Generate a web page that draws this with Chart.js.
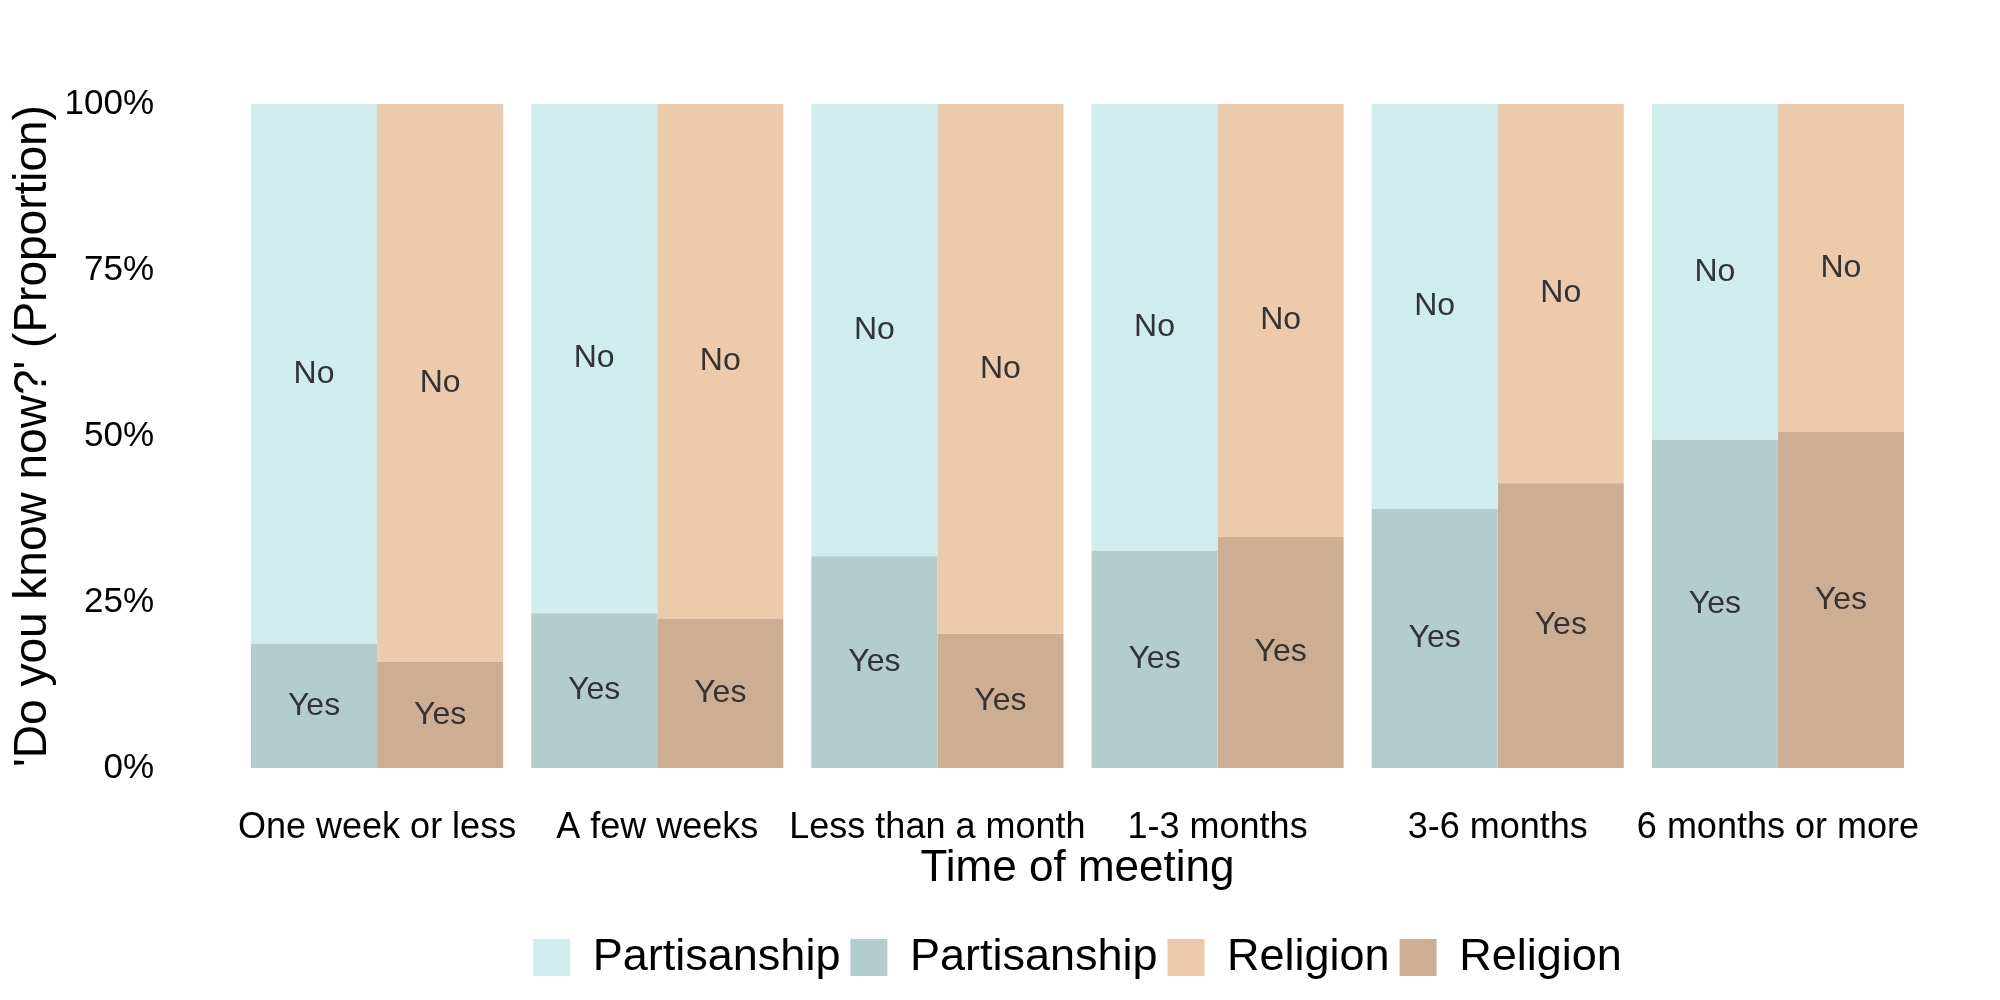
<!DOCTYPE html>
<html>
<head>
<meta charset="utf-8">
<script src="https://cdn.jsdelivr.net/npm/chart.js@4"></script>
<style>
  html, body { margin: 0; padding: 0; background: #fff; }
</style>
</head>
<body>
<canvas id="chart" width="2000" height="1000"></canvas>
<script>
const categories = ['One week or less', 'A few weeks', 'Less than a month', '1-3 months', '3-6 months', '6 months or more'];
const partisanshipYes = [18.7, 23.3, 31.9, 32.7, 39.0, 49.4];
const partisanshipNo = [81.3, 76.7, 68.1, 67.3, 61.0, 50.6];
const religionYes = [16.0, 22.5, 20.2, 34.8, 42.9, 50.6];
const religionNo = [84.0, 77.5, 79.8, 65.2, 57.1, 49.4];
const yTicks = [0, 25, 50, 75, 100];
const segmentLabels = ['Yes', 'No', 'Yes', 'No'];
const legendOrder = [1, 0, 3, 2];

const FONT = "'Liberation Sans', Arial, sans-serif";
Chart.defaults.font.family = FONT;
Chart.defaults.color = '#000';

// writes Yes / No in the middle of each stacked segment
const segmentText = {
  id: 'segmentText',
  afterDatasetsDraw(chart) {
    const ctx = chart.ctx;
    ctx.save();
    ctx.font = '32px ' + FONT;
    ctx.fillStyle = '#333333';
    ctx.textAlign = 'center';
    ctx.textBaseline = 'middle';
    chart.data.datasets.forEach((ds, i) => {
      chart.getDatasetMeta(i).data.forEach((bar) => {
        ctx.fillText(segmentLabels[i], bar.x, (bar.y + bar.base) / 2);
      });
    });
    ctx.restore();
  }
};

// centre the legend under the panel rather than the canvas
const legendUnderPanel = {
  id: 'legendUnderPanel',
  afterLayout(chart) {
    if (chart.legend) {
      chart.legend.left = chart.chartArea.left;
      chart.legend.right = chart.chartArea.right;
    }
  }
};

new Chart(document.getElementById('chart'), {
  type: 'bar',
  data: {
    labels: categories,
    datasets: [
      { label: 'Partisanship', data: partisanshipYes, stack: 'p', backgroundColor: '#b3cdcd' },
      { label: 'Partisanship', data: partisanshipNo, stack: 'p', backgroundColor: '#cfeded' },
      { label: 'Religion', data: religionYes, stack: 'r', backgroundColor: '#cdae93' },
      { label: 'Religion', data: religionNo, stack: 'r', backgroundColor: '#eecaac' }
    ]
  },
  options: {
    responsive: false,
    devicePixelRatio: 1,
    animation: false,
    categoryPercentage: 0.9,
    barPercentage: 1.0,
    layout: { padding: { top: 86, right: 82, bottom: 10, left: 6 } },
    plugins: {
      tooltip: { enabled: false },
      legend: {
        position: 'bottom',
        labels: {
          font: { size: 45 },
          color: '#000',
          boxWidth: 37,
          boxHeight: 37,
          padding: 10,
          sort: (a, b) => legendOrder[a.datasetIndex] - legendOrder[b.datasetIndex]
        }
      }
    },
    scales: {
      x: {
        stacked: true,
        grid: { display: false, drawTicks: false },
        border: { display: false },
        afterFit(axis) { axis.height = 157; },
        ticks: { font: { size: 36 }, color: '#000', padding: 38, maxRotation: 0, autoSkip: false },
        title: { display: true, text: 'Time of meeting', font: { size: 44 }, color: '#000', padding: { top: 0, bottom: 30 } }
      },
      y: {
        stacked: true,
        min: 0,
        max: 100,
        grid: { display: false, drawTicks: false },
        border: { display: false },
        afterFit(axis) { axis.width = 231; },
        afterBuildTicks(axis) { axis.ticks = yTicks.map(v => ({ value: v })); },
        ticks: { font: { size: 35 }, color: '#000', padding: 83, callback: v => v + '%' },
        title: { display: true, text: "'Do you know now?' (Proportion)", font: { size: 46 }, color: '#000', padding: { top: 0, bottom: 0 } }
      }
    }
  },
  plugins: [segmentText, legendUnderPanel]
});
</script>
</body>
</html>
